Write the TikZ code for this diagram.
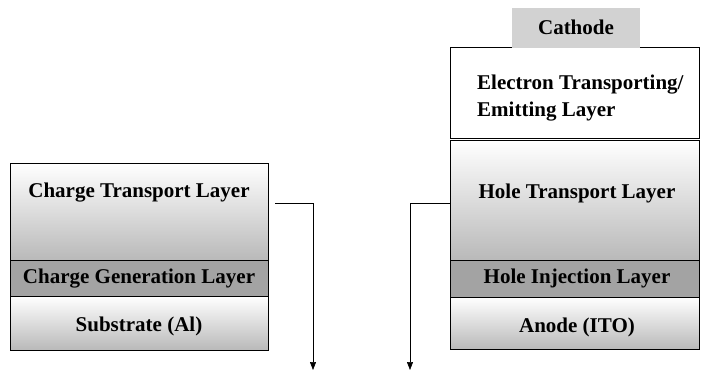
\documentclass[tikz,border=0pt]{standalone}
\usepackage{fontspec}
\newfontfamily\layerfont{Liberation Serif}
\usetikzlibrary{arrows.meta}
\tikzset{
  box/.style={draw, line width=0.6pt, inner sep=0pt, anchor=north west},
  lbl/.style={font=\layerfont\bfseries\fontsize{21}{27}\selectfont, inner sep=1pt},
  flow/.style={line width=0.6pt, -{Triangle[width=6pt,length=8pt]}}
}
\begin{document}
\begin{tikzpicture}[x=1pt, y=-1pt]
   \useasboundingbox (0,0) rectangle (701,376);
   % left stack
   \node[box, top color=white, bottom color=gray!55, minimum width=258pt, minimum height=97pt] (ctl) at (10,163) {};
   \node[box, fill=gray!72, minimum width=258pt, minimum height=36pt] (cgl) at (10,260) {};
   \node[box, top color=white, bottom color=gray!55, minimum width=258pt, minimum height=54pt] (sub) at (10,296) {};
   \node[lbl] (ctltxt) at (139,193) {Charge Transport Layer};
   \node[lbl] (cgltxt) at (139,279) {Charge Generation Layer};
   \node[lbl] (subtxt) at (139,326) {Substrate (Al)};
   % right stack
   \node[box, draw=none, fill=gray!35, minimum width=128pt, minimum height=39pt] (cath) at (512,8) {};
   \node[box, fill=white, minimum width=249pt, minimum height=91pt] (etl) at (450,47) {};
   \fill[gray!35] (512,45) rectangle (640,48);
   \node[box, top color=white, bottom color=gray!55, minimum width=249pt, minimum height=120pt] (htl) at (450,140) {};
   \node[box, fill=gray!72, minimum width=249pt, minimum height=37pt] (hil) at (450,260) {};
   \node[box, top color=white, bottom color=gray!55, minimum width=249pt, minimum height=52pt] (ano) at (450,297) {};
   \node[lbl] (cathtxt) at (576,27) {Cathode};
   \node[lbl, anchor=west, align=left] (etltxt) at (476,98) {Electron Transporting/\\Emitting Layer};
   \node[lbl] (htltxt) at (577,193) {Hole Transport Layer};
   \node[lbl] (hiltxt) at (577,278) {Hole Injection Layer};
   \node[lbl] (anotxt) at (577,327) {Anode (ITO)};
   % connectors
   \coordinate (eout) at (275,203);
   \coordinate (ebend) at (313,203);
   \coordinate (eend) at (313,370);
   \coordinate (hbend) at (410,203);
   \coordinate (hend) at (410,370);
   \draw[flow] (eout) -- (ebend) -- (eend);
   \draw[flow] (htl.west |- hbend) -- (hbend) -- (hend);
\end{tikzpicture}
\end{document}
